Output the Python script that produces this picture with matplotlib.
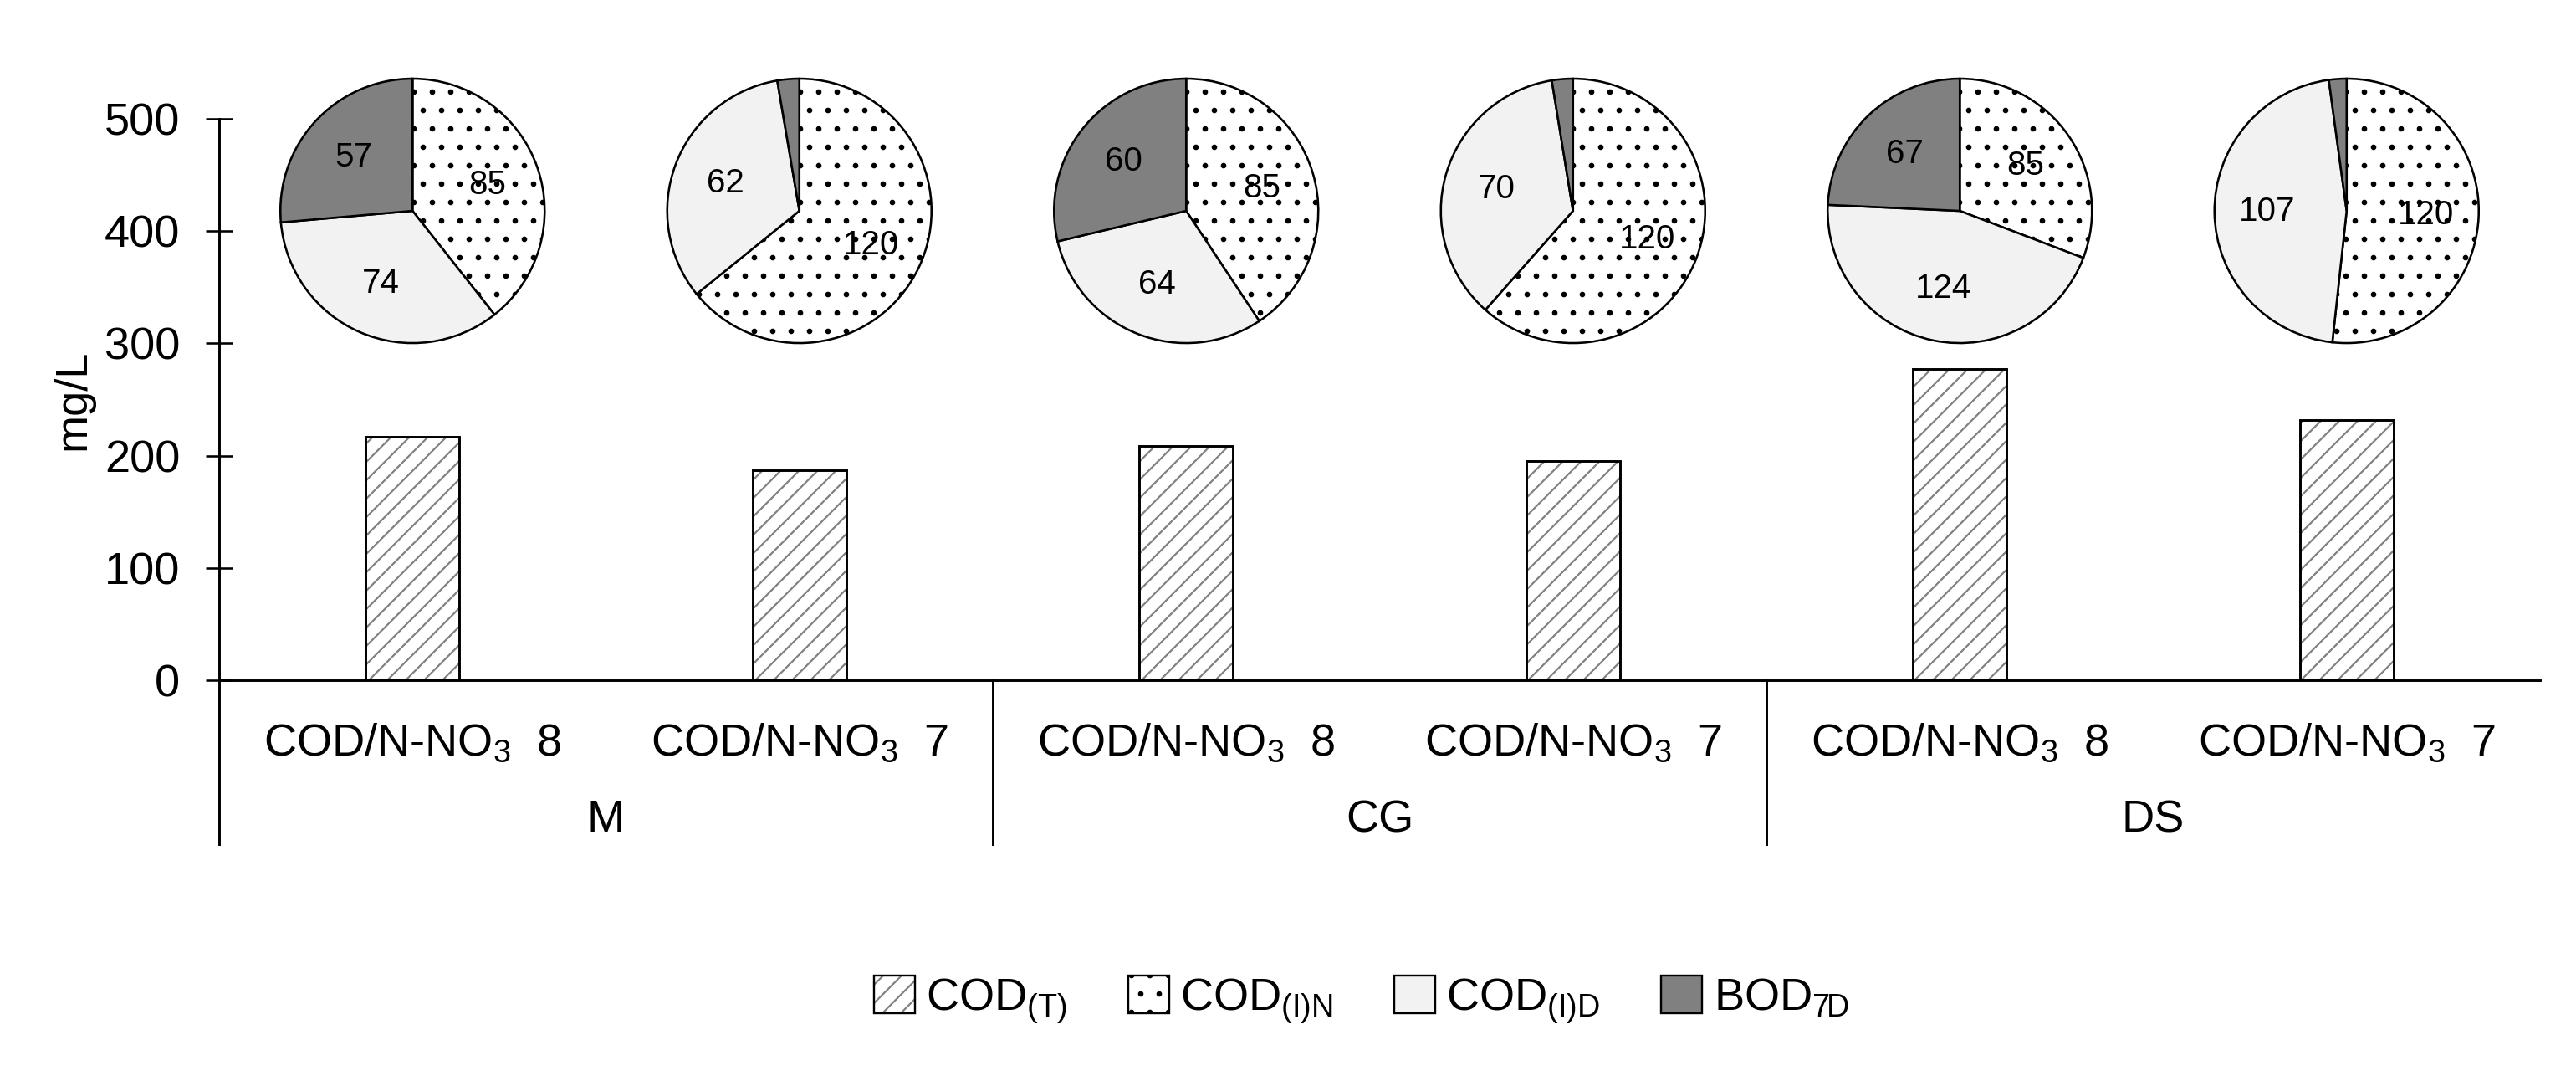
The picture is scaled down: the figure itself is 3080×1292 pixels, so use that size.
import numpy as np
import matplotlib
matplotlib.use('Agg')
import matplotlib.pyplot as plt
from matplotlib.patches import Patch

plt.rcParams['font.family'] = ['Liberation Sans', 'DejaVu Sans']
plt.rcParams['mathtext.default'] = 'regular'
plt.rcParams['hatch.linewidth'] = 1.2

# data
groups = ['M', 'CG', 'DS']
ratios = ['8', '7']
cod_t = [217, 187, 209, 195, 277, 232]
cod_in = [85, 120, 85, 120, 85, 120]
cod_id = [74, 62, 64, 70, 124, 107]
bod_7d = [57, 5, 60, 5, 67, 5]

W, H, DPI = 3080, 1292, 132
FS = 29.5
fig = plt.figure(figsize=(W / DPI, H / DPI), dpi=DPI)
ax = fig.add_axes([262 / W, 479 / H, (3037 - 262) / W, 671 / H])

x = np.arange(len(cod_t))
ax.bar(x, cod_t, 0.243, color='white', edgecolor='#808080', hatch='//', linewidth=0)
ax.bar(x, cod_t, 0.243, fill=False, edgecolor='black', linewidth=1.6)

ax.set_xlim(-0.5, 5.5)
ax.set_ylim(0, 500)
ax.set_yticks(range(0, 501, 100))
ax.set_xticks(x, [f'COD/N-NO$_3$  {r}' for g in groups for r in ratios])
for s in ['top', 'right']:
    ax.spines[s].set_visible(False)
for s in ['left', 'bottom']:
    ax.spines[s].set_linewidth(1.6)
ax.tick_params(axis='y', direction='inout', length=17, width=1.4, pad=17, labelsize=FS)
ax.tick_params(axis='x', length=0, pad=27, labelsize=FS)
ax.set_ylabel('mg/L', fontsize=FS, labelpad=7)

trans = ax.get_xaxis_transform()
for xs in [-0.5, 1.5, 3.5]:
    ax.plot([xs, xs], [0, -0.292], transform=trans, color='black', lw=1.6, clip_on=False)
for i, g in enumerate(groups):
    ax.text(2 * i + 0.5, -0.249, g, transform=trans, ha='center', va='center', fontsize=FS)

# pies above the bars
fig.canvas.draw()
r = 158 * 1.05
for i in range(len(cod_t)):
    cx, cy = ax.transData.transform((i, 418))
    pax = fig.add_axes([(cx - r) / W, (cy - r) / H, 2 * r / W, 2 * r / H])
    vals = [cod_in[i], cod_id[i], bod_7d[i]]
    labs = [str(v) if v > 10 else '' for v in vals]
    wedges, texts = pax.pie(vals, colors=['white', '#f2f2f2', '#808080'], hatch=['.', '', ''],
                            startangle=90, counterclock=False, labels=labs, labeldistance=0.6,
                            wedgeprops=dict(edgecolor='black', linewidth=1.4),
                            textprops=dict(fontsize=22))
    for t in texts:
        t.set_ha('center')
    pax.set_xlim(-1.05, 1.05)
    pax.set_ylim(-1.05, 1.05)

handles = [
    (Patch(facecolor='white', edgecolor='#808080', hatch='//', linewidth=0),
     Patch(fill=False, edgecolor='black', linewidth=1.3)),
    Patch(facecolor='white', edgecolor='black', hatch='.', linewidth=1.3),
    Patch(facecolor='#f2f2f2', edgecolor='black', linewidth=1.3),
    Patch(facecolor='#808080', edgecolor='black', linewidth=1.3),
]
labels = ['COD$_{(T)}$', 'COD$_{(I)N}$', 'COD$_{(I)D}$', 'BOD$_{7D}$']
fig.legend(handles, labels, loc='center', bbox_to_anchor=(1628 / W, 96 / H), ncol=4,
           frameon=False, fontsize=FS, handlelength=0.9, handleheight=0.9,
           handletextpad=0.25, columnspacing=1.35)

fig.savefig('out.png', dpi=DPI)
